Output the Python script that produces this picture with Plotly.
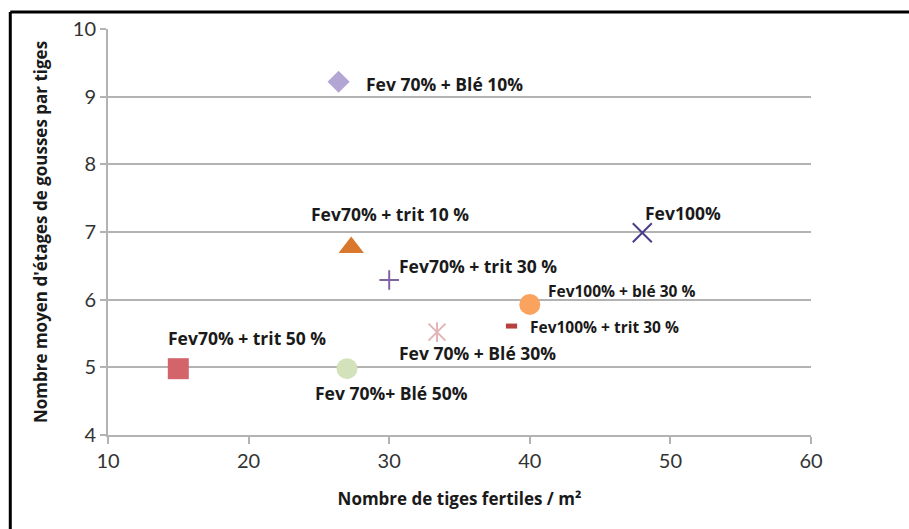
import plotly.graph_objects as go

# Treatments: fertile stems per m² vs mean number of pod stages per stem
labels = [
    "Fev 70% + Blé 10%",
    "Fev70% + trit 10 %",
    "Fev70% + trit 30 %",
    "Fev100%",
    "Fev100% + blé 30 %",
    "Fev100% + trit 30 %",
    "Fev 70% + Blé 30%",
    "Fev 70%+ Blé 50%",
    "Fev70% + trit 50 %",
]
tiges = [26.4, 27.3, 30.0, 48.0, 40.0, 38.7, 33.4, 27.0, 15.0]
etages = [9.22, 6.77, 6.29, 6.99, 5.93, 5.61, 5.52, 4.98, 4.98]

symbols = ["diamond", "triangle-up", "cross-thin", "x-thin", "circle",
           "line-ew", "x-thin", "circle", "square"]
colors = ["#b3a6d4", "#d9772c", "#8064a2", "#4b3c8a", "#f9a35e",
          "#b8403f", "#e2b6b6", "#d4e2bc", "#d2646a"]
sizes = [17, 22, 14, 19, 21, 8, 17, 21, 21]

# label placement: (x offset px, y offset px downward, anchor, font size)
label_pos = [
    (25, 2, "left", 17.5),
    (39, -34, "center", 17.5),
    (8, -14, "left", 17.5),
    (1, -20, "left", 17.5),
    (16, -13, "left", 15.5),
    (16, 1, "left", 15.5),
    (-40, 21, "left", 17.5),
    (-34, 24, "left", 17.5),
    (-12, -31, "left", 17.5),
]

fig = go.Figure()
for i in range(len(labels)):
    sym = symbols[i]
    thin = sym in ("cross-thin", "x-thin", "line-ew")
    lw = 5 if sym == "line-ew" else (2 if thin else 0)
    fig.add_trace(go.Scatter(
        x=[tiges[i]], y=[etages[i]], mode="markers", showlegend=False,
        marker=dict(symbol=sym, size=sizes[i], color=colors[i],
                    line=dict(color=colors[i], width=lw)),
        hoverinfo="skip",
    ))
    if labels[i] == "Fev 70% + Blé 30%":
        # vertical stroke completing the star marker
        fig.add_trace(go.Scatter(
            x=[tiges[i]], y=[etages[i]], mode="markers", showlegend=False,
            marker=dict(symbol="line-ns", size=14, color=colors[i],
                        line=dict(color=colors[i], width=2)),
            hoverinfo="skip",
        ))
    dx, dy, anchor, fs = label_pos[i]
    fig.add_annotation(
        x=tiges[i], y=etages[i], text="<b>%s</b>" % labels[i],
        showarrow=False, xshift=dx, yshift=-dy, xanchor=anchor,
        yanchor="middle",
        font=dict(family="Open Sans", size=fs, color="#1a1a1a"),
    )

axis_font = dict(family="Lato", size=20, color="#333333")
fig.update_layout(
    width=909, height=529,
    margin=dict(l=108, r=98, t=29, b=94),
    paper_bgcolor="white", plot_bgcolor="white",
    xaxis=dict(
        range=[10, 60], tickvals=[10, 20, 30, 40, 50, 60],
        showgrid=False, showline=True, linecolor="#b3b3b3", linewidth=2,
        ticks="outside", ticklen=7, tickcolor="#b3b3b3", tickwidth=1.5,
        tickfont=axis_font, zeroline=False,
        title=dict(text="<b>Nombre de tiges fertiles / m²</b>",
                   font=dict(family="Open Sans", size=17, color="#1a1a1a"),
                   standoff=22),
    ),
    yaxis=dict(
        range=[4, 10], tickvals=[4, 5, 6, 7, 8, 9, 10],
        showgrid=True, gridcolor="#b3b3b3", gridwidth=2,
        showline=True, linecolor="#b3b3b3", linewidth=2,
        ticks="outside", ticklen=6, tickcolor="#b3b3b3", tickwidth=1.5,
        tickfont=axis_font, zeroline=False,
        title=dict(text="<b>Nombre moyen d'étages de gousses par tiges</b>",
                   font=dict(family="Open Sans", size=17, color="#1a1a1a"),
                   standoff=21),
    ),
)

# outer frame (top and left edges)
fig.add_shape(type="line", xref="paper", yref="paper",
              x0=-0.139, x1=1.2, y0=1.042, y1=1.042,
              line=dict(color="black", width=3))
fig.add_shape(type="line", xref="paper", yref="paper",
              x0=-0.139, x1=-0.139, y0=1.042, y1=-0.24,
              line=dict(color="black", width=3))

fig.write_html("out.html")
